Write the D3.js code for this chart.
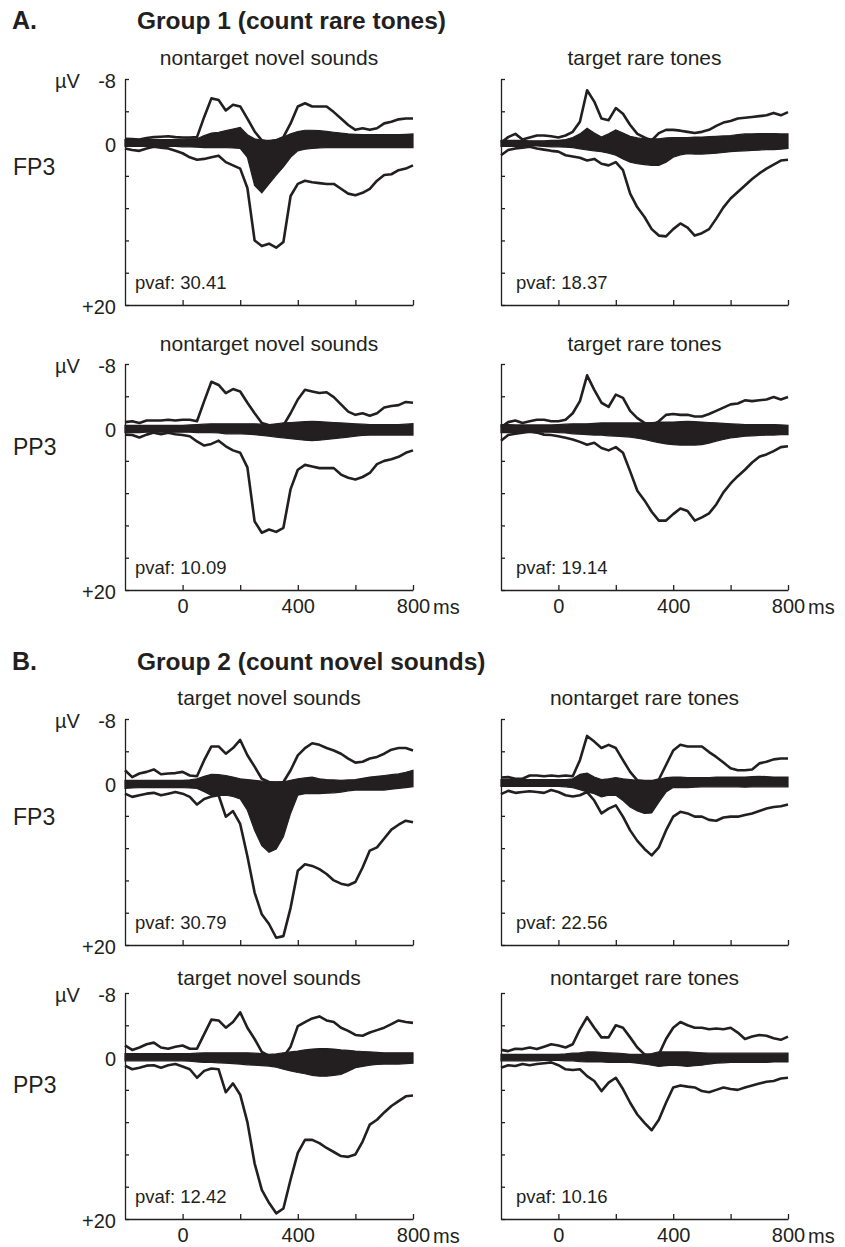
<!DOCTYPE html>
<html>
<head>
<meta charset="utf-8">
<script src="https://cdn.jsdelivr.net/npm/d3@7"></script>
<style>
body { margin: 0; background: #fff; }
svg { font-family: "Liberation Sans", Arial, sans-serif; }
</style>
</head>
<body>
<svg width="845" height="1247"></svg>
<script>
// time base, ms
var timeMs = [-200,-175,-150,-125,-100,-75,-50,-25,
  0,25,50,75,100,125,150,175,
  200,225,250,275,300,325,350,375,
  400,425,450,475,500,525,550,575,
  600,625,650,675,700,725,750,775,800];

var yTicks = [-8,-4,0,4,8,12,16,20];
var yTickLabels = {"-8": "-8", "0": "0", "20": "+20"};
var xTicks = [0,200,400,600,800];
var xTickLabels = {"0": "0", "400": "400", "800": "800"};

var groupLetters = ["A.", "B."];
var groupTitles = ["Group 1 (count rare tones)", "Group 2 (count novel sounds)"];
var electrodes = ["FP3", "PP3", "FP3", "PP3"];
var conditions = ["nontarget novel sounds", "target rare tones",
  "nontarget novel sounds", "target rare tones",
  "target novel sounds", "nontarget rare tones",
  "target novel sounds", "nontarget rare tones"];
var pvaf = ["30.41", "18.37", "10.09", "19.14", "30.79", "22.56", "12.42", "10.16"];

// Group 1, FP3, nontarget novel sounds (µV)
var aNovelFp3Upper = [-0.6,-0.55,-0.5,-0.7,-0.8,-0.85,-0.9,-0.8,
  -0.75,-0.75,-0.8,-3.3,-5.6,-5.4,-4.1,-4.8,
  -4.6,-3.1,-1.5,-0.4,-0.2,-0.4,-0.8,-2.5,
  -4.6,-5.0,-4.6,-4.6,-4.6,-3.9,-3.1,-2.3,
  -1.7,-1.9,-1.7,-1.9,-2.5,-2.7,-3.0,-3.1,-3.1];
var aNovelFp3Lower = [0.6,0.8,0.9,0.6,0.4,0.5,0.6,0.9,
  1.2,1.7,2.0,1.9,1.7,1.5,2.3,2.7,
  3.1,5.5,12.0,12.7,12.4,12.9,12.2,6.5,
  5.0,4.6,4.8,4.9,5.0,5.0,5.6,6.2,
  6.4,6.1,5.6,4.6,3.9,3.8,3.3,3.1,2.7];
var aNovelFp3BandTop = [-0.5,-0.5,-0.5,-0.5,-0.5,-0.5,-0.5,-0.5,
  -0.55,-0.6,-0.6,-1.0,-1.3,-1.4,-1.6,-1.8,
  -2.0,-1.1,-0.6,-0.4,-0.4,-0.5,-0.8,-1.2,
  -1.5,-1.65,-1.65,-1.6,-1.5,-1.4,-1.3,-1.2,
  -1.15,-1.1,-1.1,-1.1,-1.1,-1.1,-1.1,-1.15,-1.2];
var aNovelFp3BandBottom = [0.35,0.35,0.35,0.35,0.35,0.35,0.35,0.35,
  0.4,0.4,0.45,0.5,0.5,0.5,0.5,0.55,
  0.6,1.7,5.2,6.1,5.0,3.9,2.9,1.7,
  0.9,0.7,0.6,0.55,0.5,0.5,0.5,0.5,
  0.5,0.5,0.5,0.5,0.5,0.5,0.5,0.5,0.5];

// Group 1, FP3, target rare tones
var aRareFp3Upper = [-0.1,-0.8,-1.2,-0.5,-0.75,-1.0,-1.0,-0.9,
  -0.75,-1.0,-1.45,-2.7,-6.6,-5.2,-3.1,-2.9,
  -4.4,-3.7,-2.3,-1.2,-0.75,-0.4,-1.3,-1.7,
  -1.7,-1.6,-1.45,-1.3,-1.45,-1.7,-2.2,-2.6,
  -2.8,-3.1,-3.2,-3.3,-3.4,-3.5,-3.8,-3.5,-3.9];
var aRareFp3Lower = [1.45,0.8,0.6,0.5,0.4,0.6,0.75,0.9,
  1.0,1.45,1.6,1.75,2.1,1.9,2.5,2.7,
  2.3,3.3,6.2,7.9,9.1,10.6,11.4,11.5,
  10.6,9.9,10.4,11.4,11.1,10.6,9.3,7.9,
  6.8,6.0,5.2,4.4,3.7,3.1,2.6,2.1,2.0];
var aRareFp3BandTop = [-0.4,-0.4,-0.4,-0.4,-0.35,-0.35,-0.35,-0.4,
  -0.4,-0.5,-0.75,-1.2,-1.9,-1.3,-0.8,-1.2,
  -1.7,-1.3,-0.9,-0.7,-0.6,-0.6,-0.6,-0.7,
  -0.75,-0.75,-0.75,-0.8,-0.8,-0.85,-0.9,-0.95,
  -1.0,-1.1,-1.2,-1.2,-1.25,-1.25,-1.25,-1.2,-1.2];
var aRareFp3BandBottom = [0.35,0.35,0.35,0.35,0.3,0.3,0.35,0.4,
  0.4,0.45,0.5,0.65,0.8,0.9,1.0,1.2,
  1.45,1.9,2.3,2.5,2.6,2.7,2.7,2.3,
  1.7,1.4,1.25,1.3,1.3,1.25,1.2,1.1,
  1.0,0.95,0.9,0.85,0.8,0.75,0.75,0.7,0.6];

// Group 1, PP3, nontarget novel sounds
var aNovelPp3Upper = [-0.8,-0.9,-0.7,-1.0,-1.0,-1.0,-1.1,-1.0,
  -1.1,-1.1,-0.9,-3.4,-5.8,-5.4,-4.4,-4.9,
  -4.6,-3.2,-1.9,-0.7,-0.4,-0.4,-0.4,-1.9,
  -3.6,-4.8,-4.6,-4.4,-4.5,-3.9,-3.0,-2.1,
  -1.7,-1.9,-1.6,-1.9,-2.6,-2.8,-2.9,-3.3,-3.2];
var aNovelPp3Lower = [0.75,0.8,1.1,0.75,0.5,0.7,0.5,0.7,
  0.8,0.95,1.6,2.1,1.9,1.5,2.2,2.7,
  3.0,4.8,11.5,12.9,12.5,12.8,12.3,7.5,
  5.1,4.5,4.7,4.9,4.9,4.9,5.7,6.1,
  6.3,6.0,5.5,4.4,4.0,3.8,3.5,3.0,2.7];
var aNovelPp3BandTop = [-0.4,-0.4,-0.4,-0.4,-0.4,-0.4,-0.4,-0.4,
  -0.4,-0.45,-0.5,-0.55,-0.6,-0.6,-0.6,-0.6,
  -0.6,-0.6,-0.6,-0.55,-0.5,-0.6,-0.7,-0.75,
  -0.8,-0.85,-0.9,-0.85,-0.8,-0.75,-0.7,-0.65,
  -0.6,-0.55,-0.5,-0.5,-0.5,-0.5,-0.5,-0.55,-0.6];
var aNovelPp3BandBottom = [0.5,0.5,0.5,0.45,0.45,0.45,0.45,0.45,
  0.45,0.45,0.5,0.5,0.5,0.55,0.65,0.65,
  0.65,0.7,0.75,0.85,0.95,1.05,1.15,1.25,
  1.35,1.45,1.5,1.45,1.35,1.25,1.15,1.05,
  0.95,0.85,0.8,0.8,0.8,0.8,0.8,0.8,0.8];

// Group 1, PP3, target rare tones
var aRarePp3Upper = [-0.15,-0.8,-1.0,-0.7,-0.9,-1.1,-1.1,-0.9,
  -0.9,-1.1,-1.9,-3.4,-6.6,-4.8,-3.2,-2.7,
  -4.2,-3.8,-2.2,-1.3,-0.7,-0.4,-0.9,-1.7,
  -1.8,-1.7,-1.7,-1.5,-1.5,-1.8,-2.2,-2.6,
  -3.0,-3.1,-3.5,-3.4,-3.5,-3.6,-3.9,-3.6,-3.9];
var aRarePp3Lower = [1.5,0.8,0.65,0.5,0.4,0.5,0.75,0.8,
  0.95,1.15,1.35,1.65,2.0,1.75,2.4,2.7,
  2.3,3.0,5.3,7.7,8.9,10.3,11.4,11.4,
  10.6,9.9,10.2,11.4,11.0,10.5,9.4,7.9,
  6.8,5.9,5.1,4.2,3.5,3.2,2.8,2.3,2.2];
var aRarePp3BandTop = [-0.5,-0.5,-0.45,-0.45,-0.45,-0.45,-0.45,-0.45,
  -0.5,-0.55,-0.6,-0.6,-0.6,-0.65,-0.7,-0.7,
  -0.7,-0.7,-0.7,-0.7,-0.7,-0.75,-0.8,-0.8,
  -0.8,-0.85,-0.9,-0.85,-0.8,-0.75,-0.7,-0.65,
  -0.6,-0.55,-0.5,-0.5,-0.5,-0.5,-0.5,-0.45,-0.4];
var aRarePp3BandBottom = [0.5,0.5,0.5,0.45,0.45,0.45,0.45,0.45,
  0.5,0.55,0.65,0.7,0.75,0.8,0.8,0.9,
  0.95,1.0,1.05,1.2,1.35,1.55,1.75,1.9,
  2.0,2.05,2.05,2.05,2.0,1.8,1.55,1.35,
  1.15,1.05,0.95,0.9,0.85,0.8,0.8,0.75,0.75];

// Group 2, FP3, target novel sounds
var bNovelFp3Upper = [-1.65,-0.8,-1.25,-1.45,-1.75,-1.15,-1.25,-1.3,
  -1.45,-1.0,-0.9,-2.9,-4.6,-4.6,-3.7,-4.4,
  -5.4,-3.5,-2.1,-0.6,-0.2,-0.1,-0.2,-1.65,
  -3.5,-4.4,-5.0,-4.8,-4.4,-4.1,-3.7,-3.1,
  -2.6,-2.7,-3.1,-3.3,-3.7,-4.2,-4.4,-4.4,-4.1];
var bNovelFp3Lower = [1.25,1.65,1.45,1.25,1.15,1.45,1.25,1.05,
  1.25,1.65,2.6,1.9,1.6,1.45,4.1,3.4,
  5.0,9.0,13.5,16.2,17.4,19.1,18.9,15.4,
  10.8,10.0,10.2,10.6,11.2,12.0,12.4,12.6,
  12.2,10.4,8.3,7.9,6.8,5.7,5.1,4.6,4.8];
var bNovelFp3BandTop = [-0.4,-0.4,-0.4,-0.4,-0.4,-0.4,-0.4,-0.4,
  -0.4,-0.45,-0.6,-0.9,-1.15,-1.1,-1.0,-0.8,
  -0.6,-0.5,-0.4,-0.3,-0.2,-0.2,-0.2,-0.4,
  -0.6,-0.7,-0.8,-0.6,-0.5,-0.45,-0.4,-0.45,
  -0.5,-0.65,-0.8,-0.9,-1.0,-1.1,-1.2,-1.4,-1.65];
var bNovelFp3BandBottom = [0.6,0.55,0.5,0.5,0.5,0.5,0.5,0.5,
  0.5,0.55,0.6,1.0,1.45,1.45,1.45,1.6,
  1.9,3.3,5.8,7.7,8.5,8.1,6.6,3.7,
  1.45,1.25,1.25,1.25,1.2,1.15,1.05,0.9,
  0.8,0.8,0.8,0.8,0.8,0.7,0.6,0.5,0.4];

// Group 2, FP3, nontarget rare tones
var bRareFp3Upper = [-0.75,-0.8,-0.6,-0.6,-1.0,-1.0,-0.9,-1.0,
  -0.9,-1.0,-0.9,-2.9,-5.9,-5.2,-4.4,-4.8,
  -4.4,-2.9,-1.45,-0.4,-0.3,-0.3,-0.5,-2.3,
  -4.1,-4.8,-4.6,-4.6,-4.6,-3.9,-3.3,-2.6,
  -1.9,-1.65,-1.65,-1.75,-2.5,-2.7,-3.0,-3.1,-3.1];
var bRareFp3Lower = [1.3,0.9,1.15,1.05,0.95,1.05,1.15,0.8,
  1.05,1.45,1.6,1.45,1.05,2.1,3.7,3.1,
  2.7,4.1,5.8,7.1,8.1,8.9,7.9,5.8,
  4.1,3.5,3.7,4.1,4.1,4.5,4.6,4.2,
  4.1,4.1,3.9,3.7,3.4,3.1,2.9,2.8,2.6];
var bRareFp3BandTop = [-0.5,-0.5,-0.5,-0.5,-0.5,-0.5,-0.5,-0.5,
  -0.5,-0.5,-0.6,-1.15,-1.3,-0.8,-0.5,-0.6,
  -0.75,-0.6,-0.5,-0.4,-0.3,-0.3,-0.5,-0.75,
  -0.8,-0.8,-0.75,-0.75,-0.75,-0.75,-0.8,-0.8,
  -0.8,-0.8,-0.8,-0.85,-0.9,-0.85,-0.8,-0.8,-0.8];
var bRareFp3BandBottom = [0.35,0.35,0.35,0.35,0.35,0.35,0.35,0.35,
  0.35,0.4,0.5,0.75,1.05,1.25,1.65,1.45,
  1.45,2.1,2.9,3.4,3.7,3.65,2.3,1.05,
  0.5,0.5,0.5,0.45,0.4,0.4,0.4,0.4,
  0.4,0.4,0.45,0.4,0.4,0.4,0.4,0.4,0.4];

// Group 2, PP3, target novel sounds
var bNovelPp3Upper = [-1.5,-0.95,-1.25,-1.65,-1.85,-1.25,-1.1,-1.35,
  -1.5,-1.1,-1.1,-2.9,-4.7,-4.6,-3.7,-4.4,
  -5.6,-3.7,-2.3,-0.7,-0.2,-0.1,-0.1,-1.35,
  -3.9,-4.4,-4.85,-5.1,-4.6,-4.4,-3.7,-3.3,
  -2.8,-2.7,-3.1,-3.4,-3.7,-4.15,-4.6,-4.4,-4.3];
var bNovelPp3Lower = [1.0,1.45,1.25,1.0,0.95,1.25,0.95,0.8,
  1.1,1.45,2.5,1.65,1.35,1.45,4.3,3.2,
  4.6,8.0,13.1,16.4,18.0,19.3,18.7,15.1,
  11.8,10.2,10.2,10.6,11.2,11.7,12.2,12.3,
  12.0,10.4,8.3,7.7,6.8,6.0,5.4,4.8,4.7];
var bNovelPp3BandTop = [-0.5,-0.5,-0.5,-0.5,-0.5,-0.5,-0.5,-0.5,
  -0.5,-0.5,-0.55,-0.6,-0.6,-0.6,-0.6,-0.6,
  -0.6,-0.6,-0.55,-0.5,-0.4,-0.45,-0.6,-0.7,
  -0.8,-0.95,-1.05,-1.1,-1.1,-1.05,-0.95,-0.9,
  -0.8,-0.75,-0.7,-0.65,-0.6,-0.6,-0.6,-0.6,-0.6];
var bNovelPp3BandBottom = [0.4,0.4,0.4,0.4,0.4,0.4,0.4,0.4,
  0.4,0.45,0.55,0.6,0.6,0.65,0.7,0.75,
  0.8,0.9,0.95,1.0,1.05,1.2,1.45,1.65,
  1.85,2.0,2.2,2.3,2.3,2.2,2.1,1.7,
  1.25,1.1,0.95,0.85,0.8,0.8,0.8,0.75,0.7];

// Group 2, PP3, nontarget rare tones
var bRarePp3Upper = [-0.95,-0.8,-1.1,-1.05,-1.25,-1.05,-1.35,-1.65,
  -1.5,-1.25,-1.65,-3.5,-5.0,-3.7,-2.5,-2.5,
  -4.0,-3.7,-2.5,-1.25,-0.4,-0.2,-0.4,-2.3,
  -3.7,-4.4,-4.0,-3.7,-3.7,-3.5,-3.6,-3.5,
  -3.7,-3.1,-2.3,-2.6,-2.8,-2.7,-2.4,-2.2,-2.6];
var bRarePp3Lower = [1.25,0.95,1.05,0.8,0.95,0.8,0.7,0.6,
  0.95,1.45,1.55,1.45,2.3,2.9,4.15,3.1,
  2.5,3.9,5.6,7.05,8.1,9.0,7.7,5.6,
  3.7,3.45,3.6,3.7,4.15,4.3,4.0,3.7,
  3.9,4.0,3.7,3.45,3.2,3.0,2.9,2.6,2.5];
var bRarePp3BandTop = [-0.4,-0.4,-0.4,-0.4,-0.4,-0.4,-0.4,-0.4,
  -0.4,-0.45,-0.55,-0.6,-0.7,-0.7,-0.65,-0.6,
  -0.55,-0.5,-0.4,-0.4,-0.4,-0.5,-0.7,-0.7,
  -0.7,-0.7,-0.7,-0.65,-0.6,-0.55,-0.55,-0.55,
  -0.55,-0.55,-0.55,-0.55,-0.55,-0.55,-0.55,-0.55,-0.55];
var bRarePp3BandBottom = [0.4,0.4,0.4,0.4,0.4,0.4,0.35,0.35,
  0.35,0.4,0.4,0.5,0.55,0.55,0.55,0.6,
  0.6,0.6,0.6,0.7,0.8,0.95,1.1,1.0,
  0.95,1.0,1.1,1.0,0.95,0.8,0.7,0.65,
  0.6,0.6,0.6,0.6,0.6,0.6,0.55,0.55,0.55];

var series = [
  [aNovelFp3Upper, aNovelFp3Lower, aNovelFp3BandTop, aNovelFp3BandBottom],
  [aRareFp3Upper, aRareFp3Lower, aRareFp3BandTop, aRareFp3BandBottom],
  [aNovelPp3Upper, aNovelPp3Lower, aNovelPp3BandTop, aNovelPp3BandBottom],
  [aRarePp3Upper, aRarePp3Lower, aRarePp3BandTop, aRarePp3BandBottom],
  [bNovelFp3Upper, bNovelFp3Lower, bNovelFp3BandTop, bNovelFp3BandBottom],
  [bRareFp3Upper, bRareFp3Lower, bRareFp3BandTop, bRareFp3BandBottom],
  [bNovelPp3Upper, bNovelPp3Lower, bNovelPp3BandTop, bNovelPp3BandBottom],
  [bRarePp3Upper, bRarePp3Lower, bRarePp3BandTop, bRarePp3BandBottom]
];

var ink = "#231f20";
var svg = d3.select("svg");

var colX = [125, 501];
var colW = [288, 287];
var rowTop = [79, 364, 719, 993];
var rowH = 226;
var subtitleY = [65, 351, 705, 985];
var electrodeY = [175, 455, 825, 1093];
var groupY = [29, 670];

// group headings
groupLetters.forEach(function(l, i) {
  svg.append("text").attr("x", 12).attr("y", groupY[i])
    .attr("font-size", 25).attr("font-weight", "bold").attr("fill", ink).text(l);
  svg.append("text").attr("x", 137).attr("y", groupY[i])
    .attr("font-size", 24.5).attr("font-weight", "bold").attr("fill", ink).text(groupTitles[i]);
});

electrodes.forEach(function(e, r) {
  svg.append("text").attr("x", 13).attr("y", electrodeY[r])
    .attr("font-size", 23).attr("fill", ink).text(e);
  svg.append("text").attr("x", 55).attr("y", rowTop[r] + 9)
    .attr("font-size", 20).attr("fill", ink).text("µV");
});

series.forEach(function(s, p) {
  var row = Math.floor(p / 2), col = p % 2;
  var top = rowTop[row];
  var x = d3.scaleLinear().domain([-200, 800]).range([colX[col], colX[col] + colW[col]]);
  var y = d3.scaleLinear().domain([-8, 20]).range([top, top + rowH]);
  var g = svg.append("g");
  var bottomRow = row % 2 == 1;

  // title
  g.append("text")
    .attr("x", colX[col] + colW[col] / 2)
    .attr("y", subtitleY[row])
    .attr("text-anchor", "middle")
    .attr("font-size", 21)
    .attr("fill", ink)
    .text(conditions[p]);

  // band
  var area = d3.area()
    .x(function(d, i) { return x(timeMs[i]); })
    .y0(function(d, i) { return y(s[3][i]); })
    .y1(function(d, i) { return y(s[2][i]); });
  g.append("path").datum(timeMs).attr("d", area)
    .attr("fill", ink).attr("stroke", ink).attr("stroke-width", 1.2);

  // envelopes
  var line = d3.line().x(function(d, i) { return x(timeMs[i]); }).y(function(d) { return y(d); });
  [s[0], s[1]].forEach(function(arr) {
    g.append("path").datum(arr).attr("d", line)
      .attr("fill", "none").attr("stroke", ink)
      .attr("stroke-width", 2.6).attr("stroke-linejoin", "round");
  });

  // axes
  var yAxis = g.append("g")
    .attr("transform", "translate(" + colX[col] + ",0)")
    .call(d3.axisLeft(y).tickValues(yTicks).tickSizeInner(-4).tickSizeOuter(0).tickPadding(9)
      .tickFormat(function(v) { return col == 0 && yTickLabels[v] ? yTickLabels[v] : ""; }));
  var xAxis = g.append("g")
    .attr("transform", "translate(0," + (top + rowH) + ")")
    .call(d3.axisBottom(x).tickValues(xTicks).tickSizeInner(-5).tickSizeOuter(0).tickPadding(9)
      .tickFormat(function(v) { return bottomRow ? xTickLabels[v] || "" : ""; }));
  [yAxis, xAxis].forEach(function(a) {
    a.attr("font-family", null).attr("font-size", 20);
    a.selectAll("path, line").attr("stroke", ink).attr("stroke-width", 1.3);
    a.selectAll("text").attr("fill", ink);
  });
  yAxis.selectAll("text").attr("dy", "0.4em");

  if (bottomRow) {
    g.append("text").attr("x", colX[col] + colW[col] + 20).attr("y", top + rowH + 24)
      .attr("font-size", 20).attr("fill", ink).text("ms");
  }

  g.append("text")
    .attr("x", colX[col] + (col == 0 ? 10 : 15))
    .attr("y", top + rowH - 16)
    .attr("font-size", 18.5)
    .attr("fill", ink)
    .text("pvaf: " + pvaf[p]);
});
</script>
</body>
</html>
